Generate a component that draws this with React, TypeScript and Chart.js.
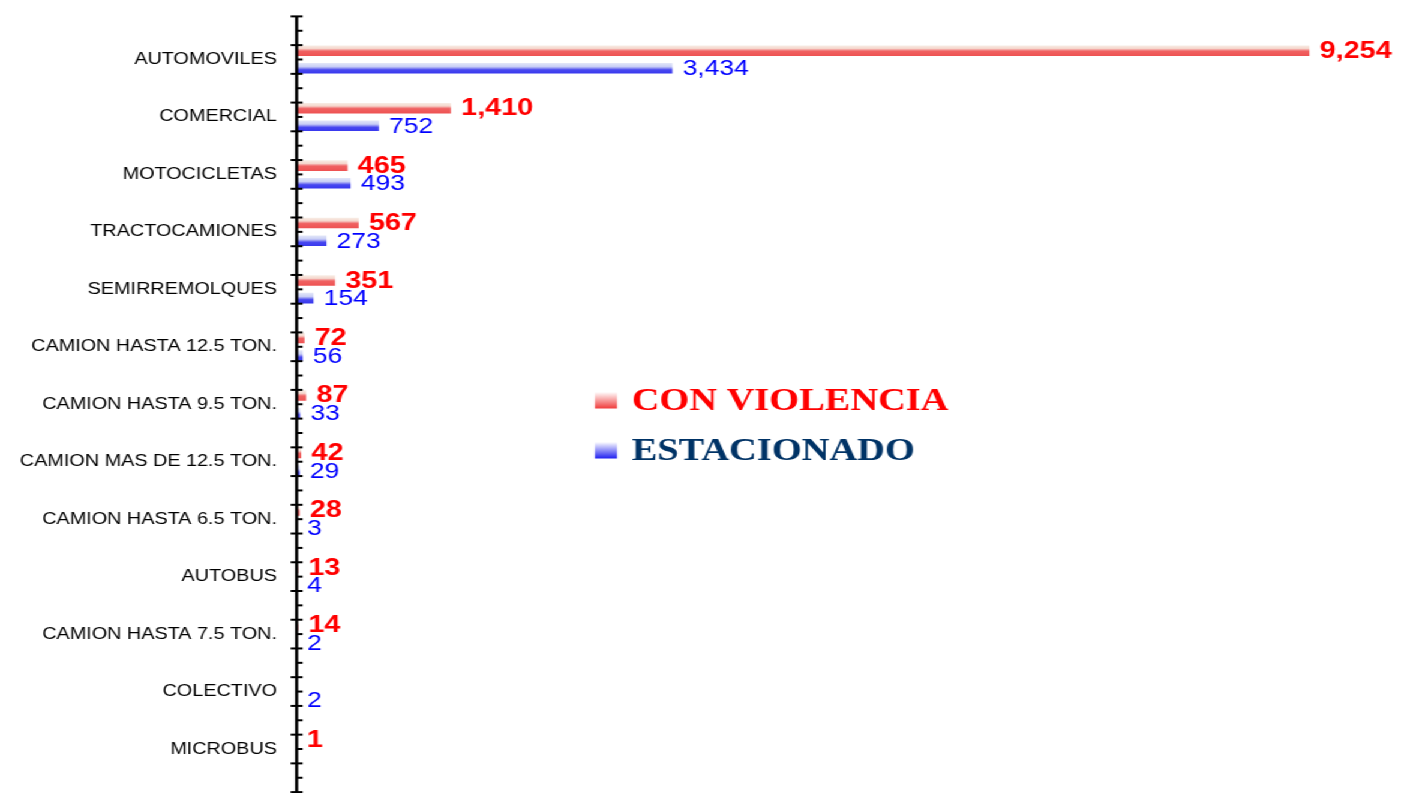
import React, { useEffect, useRef } from "react";
import { Chart, registerables } from "chart.js";

Chart.register(...registerables);

const categories = [
  "AUTOMOVILES",
  "COMERCIAL",
  "MOTOCICLETAS",
  "TRACTOCAMIONES",
  "SEMIRREMOLQUES",
  "CAMION HASTA 12.5 TON.",
  "CAMION HASTA 9.5 TON.",
  "CAMION MAS DE 12.5 TON.",
  "CAMION HASTA 6.5 TON.",
  "AUTOBUS",
  "CAMION HASTA 7.5 TON.",
  "COLECTIVO",
  "MICROBUS",
];
const conViolencia = [9254, 1410, 465, 567, 351, 72, 87, 42, 28, 13, 14, 0, 1];
const estacionado = [3434, 752, 493, 273, 154, 56, 33, 29, 3, 4, 2, 2, 0];
const seriesNames = ["CON VIOLENCIA", "ESTACIONADO"];

const SX = 1.2;
const W = 1168;
const H = 793;
const CAT_PCT = 0.612;
const BAR_PCT = 0.6;

const redStops: [number, string][] = [
  [0, "#f8eee6"],
  [0.3, "#f5d6cc"],
  [0.42, "#f29a98"],
  [0.55, "#f06262"],
  [1, "#ee5252"],
];
const blueStops: [number, string][] = [
  [0, "#e4e8f8"],
  [0.35, "#c8cef6"],
  [0.5, "#8c8ef2"],
  [0.65, "#4848f0"],
  [1, "#3838ee"],
];

function barGradient(context: any, stops: [number, string][]) {
  const chart = context.chart;
  const scale = chart.scales && chart.scales.y;
  if (!scale || context.dataIndex == null || !chart.chartArea) return stops[stops.length - 1][1];
  const catW = (scale.bottom - scale.top) / categories.length;
  const slot = (catW * CAT_PCT) / 2;
  const barH = slot * BAR_PCT;
  const c = scale.getPixelForValue(context.dataIndex) + (context.datasetIndex === 0 ? -slot / 2 : slot / 2);
  const g = chart.ctx.createLinearGradient(0, c - barH / 2, 0, c + barH / 2);
  stops.forEach(([o, col]) => g.addColorStop(o, col));
  return g;
}

const axisPlugin = {
  id: "axisPlugin",
  afterDatasetsDraw(chart: any) {
    const { ctx, chartArea } = chart;
    const y = chart.scales.y;
    const catW = (y.bottom - y.top) / categories.length;
    const x0 = chartArea.left;
    const top = y.getPixelForValue(0) - 0.75 * catW;
    ctx.save();
    ctx.strokeStyle = "#000";
    ctx.lineWidth = 2.6;
    ctx.beginPath();
    ctx.moveTo(x0, top);
    ctx.lineTo(x0, H);
    ctx.stroke();
    ctx.lineWidth = 2;
    for (let q = -3; q <= categories.length * 4; q++) {
      const py = y.getPixelForValue(0) + (q / 4) * catW;
      if (py > H) break;
      const major = Math.abs(q % 2) === 1;
      ctx.beginPath();
      ctx.moveTo(major ? x0 - 5 : x0, py);
      ctx.lineTo(x0 + 5, py);
      ctx.stroke();
    }
    ctx.restore();
  },
};

const labelPlugin = {
  id: "labelPlugin",
  afterDatasetsDraw(chart: any) {
    const { ctx } = chart;
    ctx.save();
    ctx.textAlign = "left";
    ctx.textBaseline = "alphabetic";
    chart.data.datasets.forEach((ds: any, di: number) => {
      const meta = chart.getDatasetMeta(di);
      meta.data.forEach((el: any, i: number) => {
        const v = ds.data[i];
        if (!v) return;
        ctx.font = di === 0 ? "bold 24px 'Liberation Sans', Arial, sans-serif" : "22px 'Liberation Sans', Arial, sans-serif";
        ctx.fillStyle = di === 0 ? "#ff0000" : "#0000ff";
        ctx.fillText(v.toLocaleString("en-US"), el.x + 8.5, el.y + 7);
      });
    });
    ctx.restore();
  },
};

const legendPlugin = {
  id: "legendPlugin",
  afterDraw(chart: any) {
    const { ctx } = chart;
    const colors = ["#ff0000", "#003366"];
    const markerBottom = ["#f03c3c", "#2020f0"];
    ctx.save();
    chart.data.datasets.forEach((ds: any, i: number) => {
      const my = 392 + i * 50;
      const g = ctx.createLinearGradient(0, my, 0, my + 16.5);
      g.addColorStop(0, "#ffffff");
      g.addColorStop(1, markerBottom[i]);
      ctx.fillStyle = g;
      ctx.fillRect(495.8, my, 18.4, 16.5);
      ctx.font = "bold 32px 'Liberation Serif', 'Times New Roman', serif";
      ctx.fillStyle = colors[i];
      ctx.textAlign = "left";
      ctx.textBaseline = "alphabetic";
      ctx.fillText(ds.label, 526.4, 410 + i * 49.5);
    });
    ctx.restore();
  },
};

export default function App() {
  const ref = useRef<HTMLCanvasElement | null>(null);
  useEffect(() => {
    if (!ref.current) return;
    const chart = new Chart(ref.current, {
      type: "bar",
      data: {
        labels: categories,
        datasets: [
          {
            label: seriesNames[0],
            data: conViolencia,
            backgroundColor: (c: any) => barGradient(c, redStops),
            categoryPercentage: CAT_PCT,
            barPercentage: BAR_PCT,
          },
          {
            label: seriesNames[1],
            data: estacionado,
            backgroundColor: (c: any) => barGradient(c, blueStops),
            categoryPercentage: CAT_PCT,
            barPercentage: BAR_PCT,
          },
        ],
      },
      options: {
        indexAxis: "y",
        animation: false,
        responsive: false,
        events: [],
        layout: { padding: { top: 30.75, bottom: 15.25, left: 0, right: 8.8 } },
        plugins: { legend: { display: false }, tooltip: { enabled: false } },
        scales: {
          x: { type: "linear", min: 0, max: 10000, display: false },
          y: {
            type: "category",
            offset: true,
            grid: { display: false, drawTicks: false },
            border: { display: false },
            afterFit: (s: any) => {
              s.width = 247.2;
              s.paddingTop = 0;
              s.paddingBottom = 0;
            },
            ticks: {
              autoSkip: false,
              padding: 16.4,
              color: "#000",
              font: { family: "'Liberation Sans', Arial, sans-serif", size: 16.5 },
            },
          },
        },
      },
      plugins: [axisPlugin, labelPlugin, legendPlugin],
    } as any);
    return () => chart.destroy();
  }, []);
  return (
    <div
      style={{
        position: "absolute",
        left: 0,
        top: 0,
        width: W,
        height: H,
        transform: `scaleX(${SX})`,
        transformOrigin: "0 0",
        background: "#fff",
      }}
    >
      <canvas ref={ref} width={W} height={H} style={{ display: "block" }} />
    </div>
  );
}
